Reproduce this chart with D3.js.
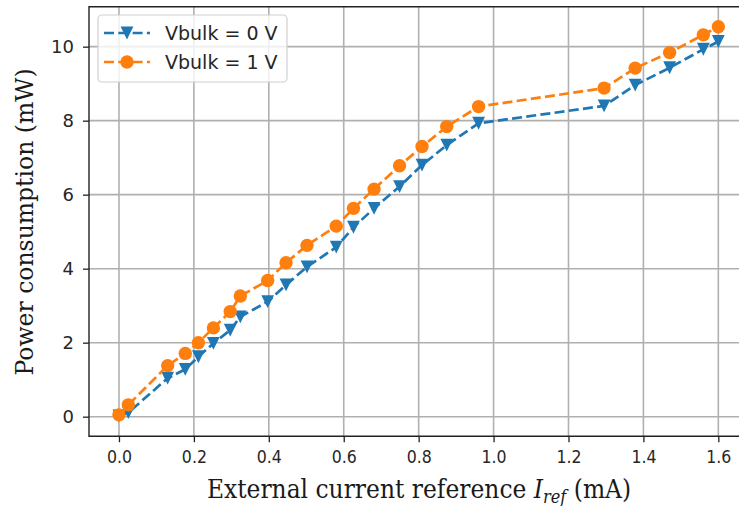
<!DOCTYPE html>
<html><head><meta charset="utf-8">
<script src="https://cdn.jsdelivr.net/npm/d3@7"></script>
<style>body{margin:0;background:#fff}svg{display:block}</style>
</head><body>
<script>
const iref = [0, 0.025, 0.13, 0.177, 0.212, 0.252, 0.297, 0.324, 0.397, 0.446, 0.502, 0.58, 0.626, 0.681, 0.749, 0.809, 0.875, 0.96, 1.295, 1.378, 1.47, 1.56, 1.60];
const vbulk0 = [0.02, 0.11, 1.04, 1.28, 1.62, 1.98, 2.34, 2.70, 3.11, 3.56, 4.05, 4.58, 5.12, 5.63, 6.22, 6.80, 7.34, 7.93, 8.40, 8.96, 9.43, 9.93, 10.14];
const vbulk1 = [0.05, 0.32, 1.38, 1.71, 2.00, 2.40, 2.84, 3.26, 3.68, 4.16, 4.63, 5.15, 5.63, 6.15, 6.78, 7.30, 7.84, 8.38, 8.88, 9.42, 9.84, 10.32, 10.54];
const xTicks = [0.0, 0.2, 0.4, 0.6, 0.8, 1.0, 1.2, 1.4, 1.6];
const yTicks = [0, 2, 4, 6, 8, 10];
const seriesNames = ["Vbulk = 0 V", "Vbulk = 1 V"];

const W = 739, H = 506;
const svg = d3.select("body").append("svg").attr("width", W).attr("height", H);
const x = d3.scaleLinear().domain([-0.08, 1.68]).range([89, 748.3]);
const y = d3.scaleLinear().domain([-0.5275, 11.0775]).range([436.2, 6.8]);
const [L, R] = x.range(), [B, T] = y.range();

// grid
svg.append("g").selectAll("line").data(xTicks).join("line")
  .attr("x1", d => x(d)).attr("x2", d => x(d)).attr("y1", T).attr("y2", B)
  .attr("stroke", "#b0b0b0").attr("stroke-width", 1.6);
svg.append("g").selectAll("line").data(yTicks).join("line")
  .attr("x1", L).attr("x2", R).attr("y1", d => y(d)).attr("y2", d => y(d))
  .attr("stroke", "#b0b0b0").attr("stroke-width", 1.6);

// axes
const xAxis = svg.append("g").attr("transform", `translate(0,${B})`)
  .call(d3.axisBottom(x).tickValues(xTicks).tickFormat(d3.format(".1f")).tickSize(6).tickPadding(8));
const yAxis = svg.append("g").attr("transform", `translate(${L},0)`)
  .call(d3.axisLeft(y).tickValues(yTicks).tickFormat(d3.format("d")).tickSize(6).tickPadding(9));
[xAxis, yAxis].forEach(g => {
  g.select(".domain").remove();
  g.selectAll(".tick line").attr("stroke", "#222").attr("stroke-width", 1.3);
  g.selectAll(".tick text").attr("fill", "#262626");
});
yAxis.selectAll(".tick text").style("font-family", "DejaVu Sans").style("font-size", "18px");
xAxis.selectAll(".tick text").style("font-family", "'DejaVu Sans Condensed', 'DejaVu Sans'")
  .style("font-stretch", "condensed").style("font-size", "17.5px");
// spines
svg.append("path").attr("d", `M${R},${T}H${L}V${B}H${R}`).attr("fill", "none").attr("stroke", "#222").attr("stroke-width", 1.4);

// series
const colors = ["#1f77b4", "#ff7f0e"];
const data = [vbulk0, vbulk1].map(v => v.map((d, i) => [iref[i], d]));
const line = d3.line().x(d => x(d[0])).y(d => y(d[1]));
const tri = s => `M${-s},${-s}L${s},${-s}L0,${s}Z`;
data.forEach((ser, k) => {
  svg.append("path").datum(ser).attr("d", line).attr("fill", "none")
    .attr("stroke", colors[k]).attr("stroke-width", 2.7).attr("stroke-dasharray", "10,4.3");
  const g = svg.append("g");
  if (k === 0) {
    g.selectAll("path").data(ser).join("path")
      .attr("transform", d => `translate(${x(d[0])},${y(d[1])})`).attr("d", tri(6.4)).attr("fill", colors[k]);
  } else {
    g.selectAll("circle").data(ser).join("circle")
      .attr("cx", d => x(d[0])).attr("cy", d => y(d[1])).attr("r", 6.7).attr("fill", colors[k]);
  }
});

// legend
const lg = svg.append("g");
lg.append("rect").attr("x", 98).attr("y", 15).attr("width", 189).attr("height", 67).attr("rx", 4)
  .attr("fill", "white").attr("fill-opacity", 0.8).attr("stroke", "#d0d0d0").attr("stroke-width", 1.2);
seriesNames.forEach((name, k) => {
  const yy = 33 + k * 29;
  lg.append("line").attr("x1", 104).attr("x2", 150).attr("y1", yy).attr("y2", yy)
    .attr("stroke", colors[k]).attr("stroke-width", 2.7).attr("stroke-dasharray", "10,4.3");
  if (k === 0) lg.append("path").attr("transform", `translate(127,${yy})`).attr("d", tri(6.4)).attr("fill", colors[k]);
  else lg.append("circle").attr("cx", 127).attr("cy", yy).attr("r", 6.7).attr("fill", colors[k]);
  lg.append("text").attr("x", 165).attr("y", yy).attr("dy", "0.36em").text(name)
    .attr("fill", "#262626").style("font-family", "DejaVu Sans").style("font-size", "19px");
});

// axis labels
const xl = svg.append("text").attr("x", 419).attr("y", 498).attr("text-anchor", "middle")
  .style("font-family", "'DejaVu Serif Condensed', 'DejaVu Serif'").style("font-stretch", "condensed")
  .style("font-size", "26px").attr("fill", "#1a1a1a");
xl.append("tspan").text("External current reference ");
xl.append("tspan").text("I").style("font-style", "italic");
xl.append("tspan").text("ref").style("font-style", "italic").style("font-size", "18px").attr("dy", 5);
xl.append("tspan").text(" (mA)").attr("dy", -5);
svg.append("text").attr("transform", "translate(33,222) rotate(-90)").attr("text-anchor", "middle")
  .style("font-family", "DejaVu Serif").style("font-size", "23.5px").attr("fill", "#1a1a1a")
  .text("Power consumption (mW)");
</script>
</body></html>
